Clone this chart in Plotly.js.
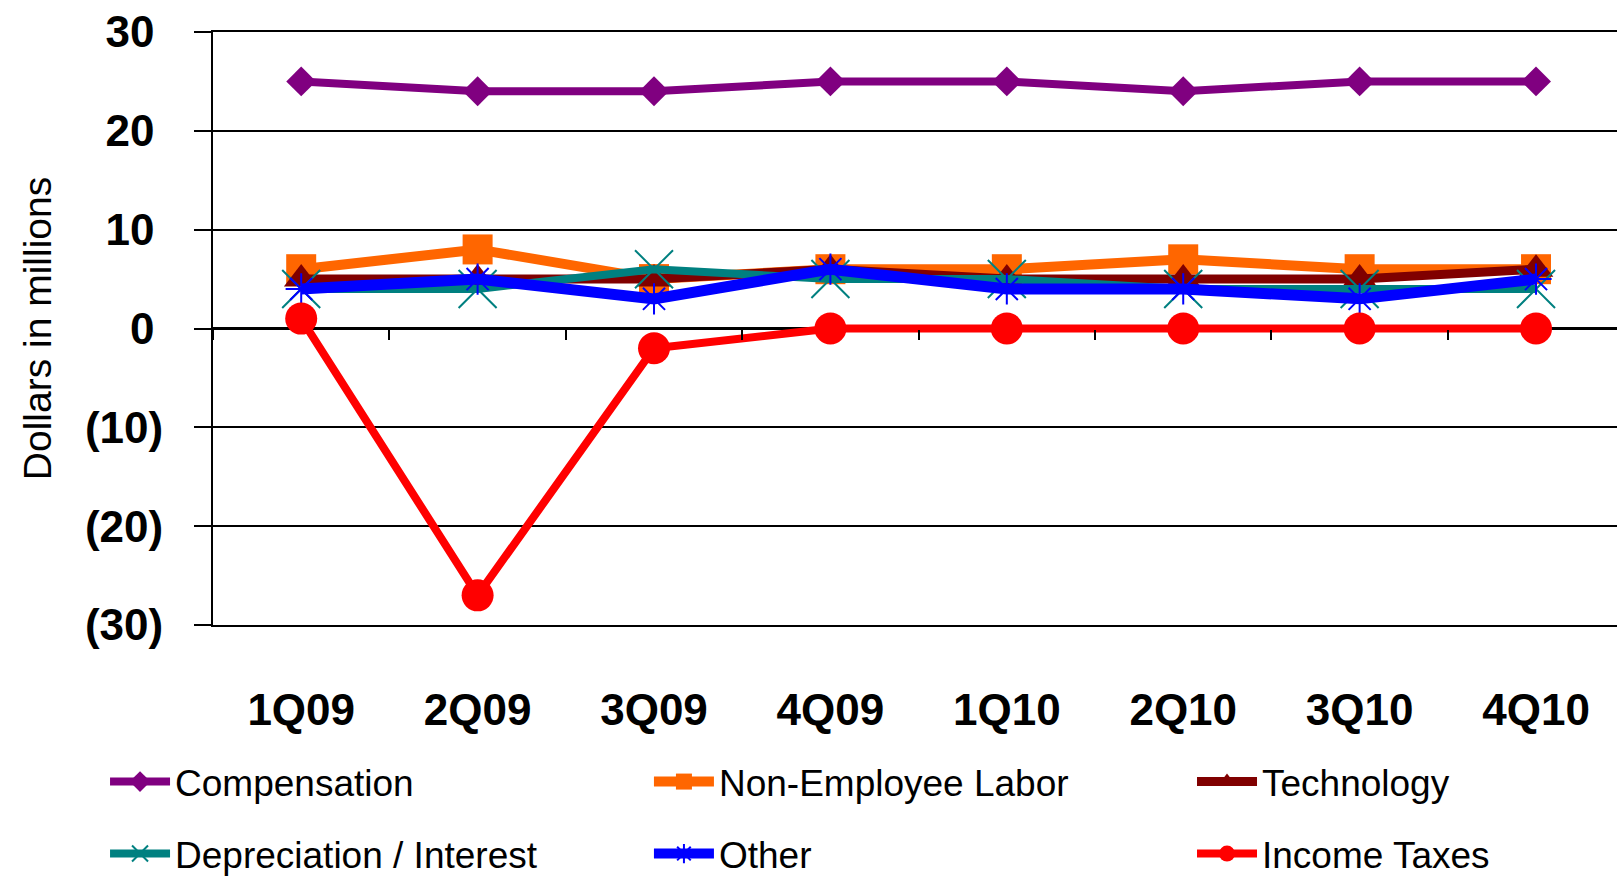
<!DOCTYPE html>
<html><head><meta charset="utf-8">
<script src="https://cdn.plot.ly/plotly-3.0.1.min.js"></script>
<style>html,body{margin:0;padding:0;background:#fff;} #chart{width:1617px;height:878px;}</style>
</head><body><div id="chart"></div>
<script>
const quarters = ['1Q09','2Q09','3Q09','4Q09','1Q10','2Q10','3Q10','4Q10'];
const compensation = [25,24,24,25,25,24,25,25];
const nonEmployeeLabor = [6,8,5,6,6,7,6,6];
const technology = [5,5,5,6,5,5,5,6];
const depreciationInterest = [4,4,6,5,5,4,4,4];
const other = [4,5,3,6,4,4,3,5];
const incomeTaxes = [1,-27,-2,0,0,0,0,0];
const yTickVals = [30,20,10,0,-10,-20,-30];
const yTickText = ['30\u2009','20\u2009','10\u2009','0\u2009','(10)','(20)','(30)'];

function series(name, y, color, lw, symbol, size, legend, open) {
  const marker = {symbol: symbol, size: size, color: color};
  marker.line = open ? {color: color, width: 2} : {width: 0};
  return {x: quarters, y: y, name: name, type: 'scatter', mode: 'lines+markers',
          line: {color: color, width: lw}, marker: marker, legend: legend, hoverinfo: 'skip'};
}

const traces = [
  series('Compensation', compensation, '#800080', 8, 'diamond', 23, 'legend', false),
  series('Non-Employee Labor', nonEmployeeLabor, '#FF6600', 10, 'square', 30, 'legend2', false),
  series('Technology', technology, '#800000', 9, 'triangle-up', 30, 'legend3', false),
  series('Depreciation / Interest', depreciationInterest, '#008080', 8, 'x-thin-open', 38, 'legend4', true),
  series('Other', other, '#0000FF', 11, 'asterisk-open', 26, 'legend5', true),
  series('Income Taxes', incomeTaxes, '#FF0000', 8, 'circle', 32, 'legend6', false),
  {x: quarters, y: quarters.map(() => null), xaxis: 'x2', yaxis: 'y', type: 'scatter', mode: 'lines',
   showlegend: false, hoverinfo: 'skip'}
];

const xr = [-0.5, 7.459];
const legFont = {family: 'Liberation Sans Narrow, Liberation Sans, Arial, sans-serif', size: 37, color: '#000'};
function leg(x, y) {
  return {x: x, y: y, xanchor: 'left', yanchor: 'middle', orientation: 'v',
          bgcolor: 'rgba(0,0,0,0)', borderwidth: 0, font: legFont, itemwidth: 60};
}
const r1 = -0.2648, r2 = -0.3862;
const c1 = -0.0769, c2 = 0.3105, c3 = 0.6973;

const layout = {
  width: 1617, height: 878,
  paper_bgcolor: '#fff', plot_bgcolor: '#fff',
  margin: {l: 213, r: 0, t: 32, b: 253, autoexpand: false},
  showlegend: true,
  xaxis: {type: 'category', range: xr, showgrid: false, zeroline: false,
          showline: true, mirror: true, linecolor: '#000', linewidth: 2,
          ticks: '', ticklabelstandoff: 45,
          tickfont: {family: 'Liberation Sans, Arial, sans-serif', size: 44, color: '#000', weight: 'bold'}},
  xaxis2: {type: 'category', overlaying: 'x', anchor: 'free', position: 0.5, range: xr,
           tickson: 'boundaries', ticks: 'outside', ticklen: 10, tickwidth: 2, tickcolor: '#000',
           showticklabels: false, showgrid: false, zeroline: false, showline: false},
  yaxis: {range: [-30, 30], tickvals: yTickVals, ticktext: yTickText,
          ticks: 'outside', ticklen: 17, tickwidth: 2, tickcolor: '#000',
          showgrid: true, gridcolor: '#000', gridwidth: 2,
          showline: true, linecolor: '#000', linewidth: 2,
          zeroline: true, zerolinecolor: '#000', zerolinewidth: 3,
          ticklabelstandoff: 22,
          tickfont: {family: 'Liberation Sans, Arial, sans-serif', size: 44, color: '#000', weight: 'bold'},
          title: {text: 'Dollars in millions', standoff: 21,
                  font: {family: 'Liberation Sans Narrow, Liberation Sans, Arial, sans-serif', size: 39, color: '#000'}}},
  legend: leg(c1, r1), legend2: leg(c2, r1), legend3: leg(c3, r1),
  legend4: leg(c1, r2), legend5: leg(c2, r2), legend6: leg(c3, r2)
};

Plotly.newPlot('chart', traces, layout, {displayModeBar: false, staticPlot: true});
</script></body></html>
